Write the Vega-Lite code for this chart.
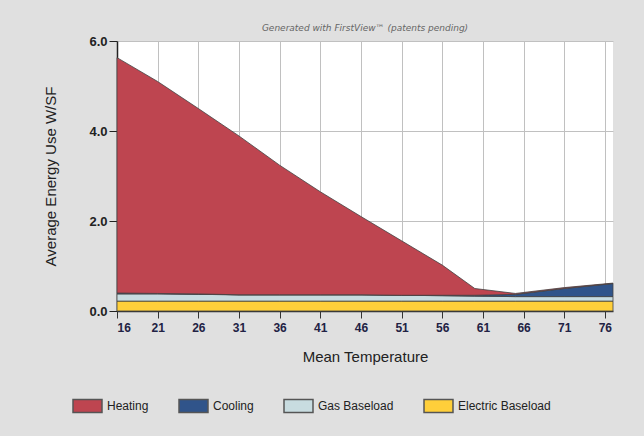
{
  "$schema": "https://vega.github.io/schema/vega-lite/v6.json",
  "width": 496,
  "height": 270,
  "autosize": {"type": "none"},
  "padding": {"left": 117, "top": 41, "right": 31, "bottom": 125},
  "background": "#e0e0e0",
  "title": {
    "text": "Generated with FirstView™ (patents pending)",
    "font": "DejaVu Sans",
    "fontSize": 9,
    "fontStyle": "italic",
    "fontWeight": "normal",
    "color": "#666666",
    "anchor": "middle",
    "offset": 2
  },
  "config": {
    "view": {"fill": "white", "stroke": null},
    "font": "Liberation Sans"
  },
  "data": {
    "values": [
      {"t": 16, "s": "Electric Baseload", "o": 1, "v": 0.22},
      {"t": 21, "s": "Electric Baseload", "o": 1, "v": 0.22},
      {"t": 26, "s": "Electric Baseload", "o": 1, "v": 0.22},
      {"t": 31, "s": "Electric Baseload", "o": 1, "v": 0.22},
      {"t": 36, "s": "Electric Baseload", "o": 1, "v": 0.22},
      {"t": 41, "s": "Electric Baseload", "o": 1, "v": 0.22},
      {"t": 46, "s": "Electric Baseload", "o": 1, "v": 0.22},
      {"t": 51, "s": "Electric Baseload", "o": 1, "v": 0.22},
      {"t": 56, "s": "Electric Baseload", "o": 1, "v": 0.22},
      {"t": 60, "s": "Electric Baseload", "o": 1, "v": 0.22},
      {"t": 65, "s": "Electric Baseload", "o": 1, "v": 0.22},
      {"t": 71, "s": "Electric Baseload", "o": 1, "v": 0.22},
      {"t": 77, "s": "Electric Baseload", "o": 1, "v": 0.22},
      {"t": 16, "s": "Gas Baseload", "o": 2, "v": 0.16},
      {"t": 21, "s": "Gas Baseload", "o": 2, "v": 0.16},
      {"t": 26, "s": "Gas Baseload", "o": 2, "v": 0.15},
      {"t": 31, "s": "Gas Baseload", "o": 2, "v": 0.14},
      {"t": 36, "s": "Gas Baseload", "o": 2, "v": 0.14},
      {"t": 41, "s": "Gas Baseload", "o": 2, "v": 0.14},
      {"t": 46, "s": "Gas Baseload", "o": 2, "v": 0.14},
      {"t": 51, "s": "Gas Baseload", "o": 2, "v": 0.13},
      {"t": 56, "s": "Gas Baseload", "o": 2, "v": 0.12},
      {"t": 60, "s": "Gas Baseload", "o": 2, "v": 0.11},
      {"t": 65, "s": "Gas Baseload", "o": 2, "v": 0.10},
      {"t": 71, "s": "Gas Baseload", "o": 2, "v": 0.10},
      {"t": 77, "s": "Gas Baseload", "o": 2, "v": 0.10},
      {"t": 16, "s": "Cooling", "o": 3, "v": 0.02},
      {"t": 21, "s": "Cooling", "o": 3, "v": 0.01},
      {"t": 26, "s": "Cooling", "o": 3, "v": 0.01},
      {"t": 31, "s": "Cooling", "o": 3, "v": 0.0},
      {"t": 36, "s": "Cooling", "o": 3, "v": 0.0},
      {"t": 41, "s": "Cooling", "o": 3, "v": 0.0},
      {"t": 46, "s": "Cooling", "o": 3, "v": 0.0},
      {"t": 51, "s": "Cooling", "o": 3, "v": 0.0},
      {"t": 56, "s": "Cooling", "o": 3, "v": 0.01},
      {"t": 60, "s": "Cooling", "o": 3, "v": 0.02},
      {"t": 65, "s": "Cooling", "o": 3, "v": 0.05},
      {"t": 71, "s": "Cooling", "o": 3, "v": 0.18},
      {"t": 77, "s": "Cooling", "o": 3, "v": 0.29},
      {"t": 16, "s": "Heating", "o": 4, "v": 5.23},
      {"t": 21, "s": "Heating", "o": 4, "v": 4.71},
      {"t": 26, "s": "Heating", "o": 4, "v": 4.12},
      {"t": 31, "s": "Heating", "o": 4, "v": 3.53},
      {"t": 36, "s": "Heating", "o": 4, "v": 2.88},
      {"t": 41, "s": "Heating", "o": 4, "v": 2.29},
      {"t": 46, "s": "Heating", "o": 4, "v": 1.74},
      {"t": 51, "s": "Heating", "o": 4, "v": 1.21},
      {"t": 56, "s": "Heating", "o": 4, "v": 0.67},
      {"t": 60, "s": "Heating", "o": 4, "v": 0.15},
      {"t": 65, "s": "Heating", "o": 4, "v": 0.02},
      {"t": 71, "s": "Heating", "o": 4, "v": 0.02},
      {"t": 77, "s": "Heating", "o": 4, "v": 0.01}
    ]
  },
  "mark": {"type": "area", "stroke": "#444444", "strokeWidth": 1, "strokeOpacity": 0.8, "fillOpacity": 1},
  "encoding": {
    "x": {
      "field": "t", "type": "quantitative",
      "scale": {"domain": [16, 77], "nice": false, "zero": false},
      "axis": {
        "title": "Mean Temperature",
        "values": [16, 21, 26, 31, 36, 41, 46, 51, 56, 61, 66, 71, 76],
        "grid": true, "gridColor": "#c0c0c0", "gridOpacity": 1,
        "domainColor": "#333333", "domainWidth": 1.5,
        "tickColor": "#333333", "tickSize": 7,
        "labelFont": "Liberation Sans", "labelFontSize": 12, "labelFontWeight": "bold", "labelColor": "#222244",
        "labelPadding": 4,
        "titleFont": "Liberation Sans", "titleFontSize": 15, "titleFontWeight": "normal", "titleColor": "#222222",
        "titlePadding": 16
      }
    },
    "y": {
      "field": "v", "type": "quantitative", "aggregate": "sum", "stack": "zero",
      "scale": {"domain": [0, 6], "nice": false},
      "axis": {
        "title": "Average Energy Use W/SF",
        "values": [0, 2, 4, 6], "format": ".1f",
        "grid": true, "gridColor": "#c0c0c0", "gridOpacity": 1,
        "domainColor": "#222222", "domainWidth": 1.5,
        "tickColor": "#222222", "tickSize": 8,
        "labelFont": "Liberation Sans", "labelFontSize": 13, "labelFontWeight": "bold", "labelColor": "#222222",
        "labelPadding": 2,
        "titleFont": "Liberation Sans", "titleFontSize": 15, "titleFontWeight": "normal", "titleColor": "#222222",
        "titlePadding": 30
      }
    },
    "color": {
      "field": "s", "type": "nominal",
      "scale": {
        "domain": ["Heating", "Cooling", "Gas Baseload", "Electric Baseload"],
        "range": ["#be4550", "#30548a", "#c8dce0", "#ffcf3a"]
      },
      "legend": {
        "title": null,
        "orient": "none",
        "direction": "horizontal",
        "legendX": -45,
        "legendY": 349,
        "symbolType": "M-1,-0.45H1V0.45H-1Z",
        "symbolSize": 841,
        "symbolStrokeColor": "#555555",
        "symbolStrokeWidth": 1.5,
        "symbolOpacity": 1,
        "labelFont": "Liberation Sans",
        "labelFontSize": 12,
        "labelColor": "#222222",
        "labelOffset": 4,
        "columnPadding": 27,
        "padding": 0
      }
    },
    "order": {"field": "o", "type": "quantitative"}
  }
}
